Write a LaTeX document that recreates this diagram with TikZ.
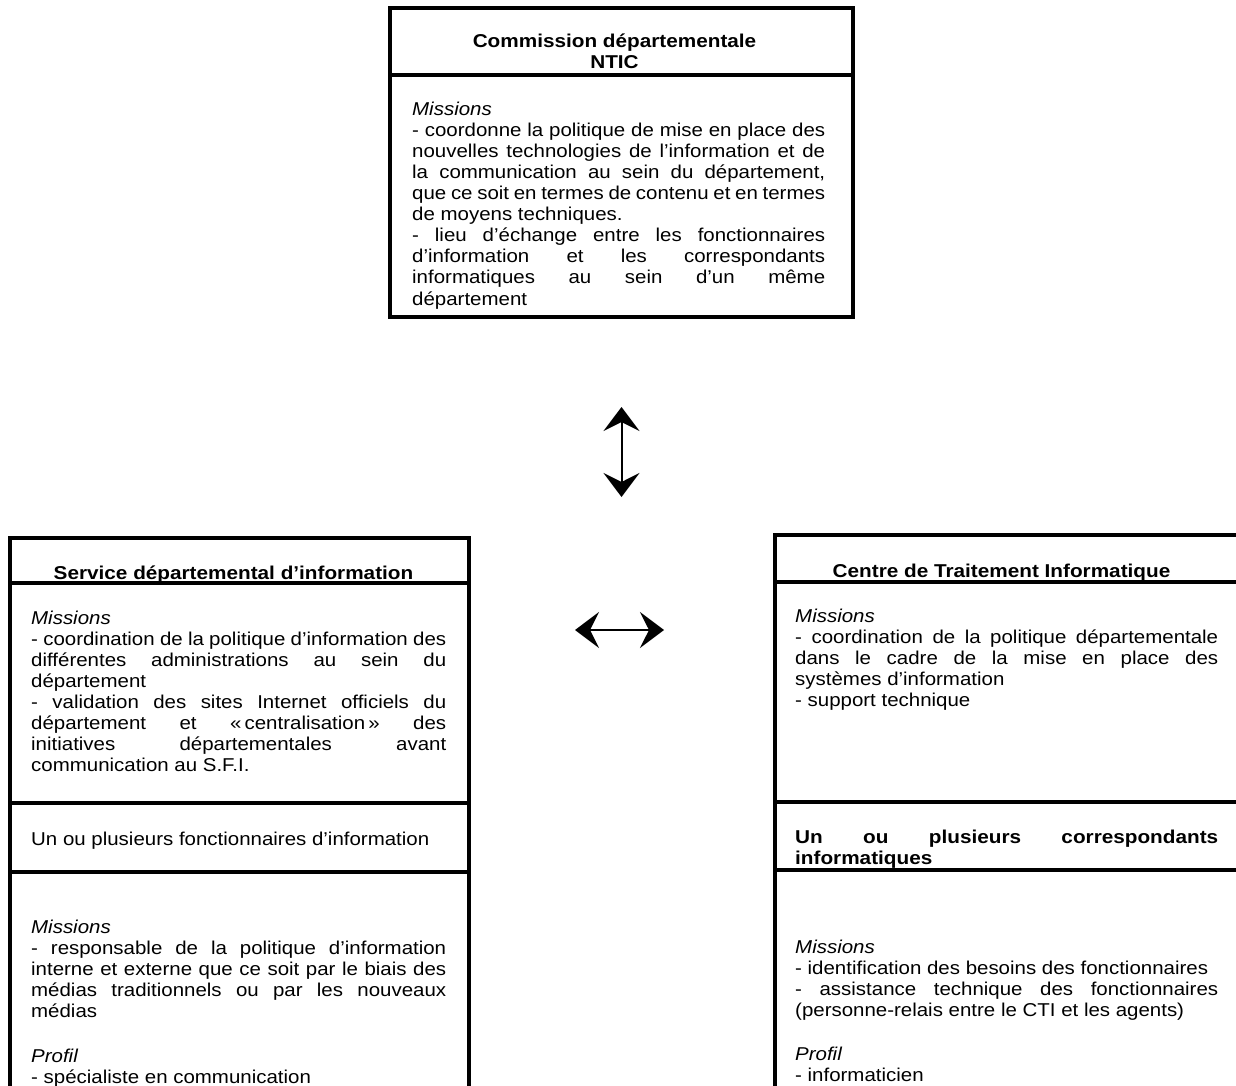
\documentclass[tikz,border=0pt]{standalone}
\usepackage{fontspec}
\setmainfont{Liberation Sans}[FakeStretch=1.1,BoldFeatures={FakeStretch=1.115}]
\usetikzlibrary{arrows.meta,positioning}
\parindent=0pt
\hyphenpenalty=10000
\tolerance=9999
\tikzset{
  cell/.style={draw,line width=3.2pt,inner sep=0pt,outer sep=0pt,anchor=north west},
  txt/.style={anchor=north west,inner sep=0pt,align=justify,
    font=\fontsize{18.6pt}{21.1pt}\selectfont,
    execute at begin node={\rule{0pt}{18pt}}},
  head/.style={inner sep=0pt,anchor=base,font=\fontsize{18.6pt}{21.1pt}\selectfont\bfseries},
  twoway/.style={{Stealth[length=24pt,width=36pt,inset=9pt]}-{Stealth[length=24pt,width=36pt,inset=9pt]},line width=2pt}
}

\begin{document}
\begin{tikzpicture}[x=1pt,y=-1pt]
  \useasboundingbox (0,0) rectangle (1236,1086);
  \clip (0,0) rectangle (1236,1086);

  % commission NTIC
  \node[cell,minimum width=463pt,minimum height=67pt] (ntichead) at (390,8) {};
  \node[cell,minimum width=463pt,minimum height=242pt,below=0pt of ntichead] (nticbody) {};
  \node[head,align=center,anchor=north,below=21pt of ntichead.north,xshift=-7pt] (ntictitle)
    {\rule{0pt}{18pt}Commission départementale\\NTIC};
  \node[txt,text width=413pt,below right=22pt and 22pt of nticbody.north west] (nticmis) {%
    \textit{Missions}\par
    - coordonne la politique de mise en place des\linebreak
    nouvelles technologies de l'information et de\linebreak
    la communication au sein du département,\linebreak
    que ce soit en termes de contenu et en termes\linebreak
    de moyens techniques.\par
    - lieu d'échange entre les fonctionnaires\linebreak
    d'information et les correspondants\linebreak
    informatiques au sein d'un même\linebreak
    département};

  % service departemental d'information
  \node[cell,minimum width=459pt,minimum height=45pt] (sdihead) at (10,538) {};
  \node[cell,minimum width=459pt,minimum height=220pt,below=0pt of sdihead] (sdibody) {};
  \node[cell,minimum width=459pt,minimum height=69pt,below=0pt of sdibody] (sdimid) {};
  \node[cell,minimum width=459pt,minimum height=240pt,below=0pt of sdimid] (sdilow) {};
  \node[head] (sdititle) at ([xshift=-6pt,yshift=4pt]sdihead.south) {Service départemental d'information};
  \node[txt,text width=415pt,below right=23pt and 21pt of sdibody.north west] (sdimis) {%
    \textit{Missions}\par
    - coordination de la politique d'information des\linebreak
    différentes administrations au sein du\linebreak
    département\par
    - validation des sites Internet officiels du\linebreak
    département et «\,centralisation\,» des\linebreak
    initiatives départementales avant\linebreak
    communication au S.F.I.};
  \node[txt,text width=415pt,below right=24pt and 21pt of sdimid.north west] (sdifonc)
    {Un ou plusieurs fonctionnaires d'information};
  \node[txt,text width=415pt,below right=43pt and 21pt of sdilow.north west] (sdiprof) {%
    \textit{Missions}\par
    - responsable de la politique d'information\linebreak
    interne et externe que ce soit par le biais des\linebreak
    médias traditionnels ou par les nouveaux\linebreak
    médias\par\vspace{24pt}
    \textit{Profil}\par
    - spécialiste en communication};

  % centre de traitement informatique
  \node[cell,minimum width=465pt,minimum height=47pt] (ctihead) at (775,535) {};
  \node[cell,minimum width=465pt,minimum height=220pt,below=0pt of ctihead] (ctibody) {};
  \node[cell,minimum width=465pt,minimum height=68pt,below=0pt of ctibody] (ctimid) {};
  \node[cell,minimum width=465pt,minimum height=240pt,below=0pt of ctimid] (ctilow) {};
  \node[head] (ctititle) at ([xshift=-6pt,yshift=5pt]ctihead.south) {Centre de Traitement Informatique};
  \node[txt,text width=423pt,below right=22pt and 20pt of ctibody.north west] (ctimis) {%
    \textit{Missions}\par
    - coordination de la politique départementale\linebreak
    dans le cadre de la mise en place des\linebreak
    systèmes d'information\par
    - support technique};
  \node[txt,text width=423pt,font=\fontsize{18.6pt}{21.1pt}\selectfont\bfseries,
    below right=23pt and 20pt of ctimid.north west] (cticorr)
    {Un ou plusieurs correspondants\linebreak informatiques};
  \node[txt,text width=423pt,below right=65pt and 20pt of ctilow.north west] (ctiprof) {%
    \textit{Missions}\par
    - identification des besoins des fonctionnaires\par
    - assistance technique des fonctionnaires\linebreak
    (personne-relais entre le CTI et les agents)\par\vspace{23pt}
    \textit{Profil}\par
    - informaticien};

  % liaisons
  \coordinate (vup) at ([yshift=-90pt]nticbody.south);
  \coordinate (vdn) at ([yshift=-180pt]nticbody.south);
  \coordinate (hlt) at (575,630);
  \coordinate (hrt) at (664,630);
  \draw[twoway] (vup) -- (vdn);
  \draw[twoway] (hlt) -- (hrt);
\end{tikzpicture}
\end{document}
